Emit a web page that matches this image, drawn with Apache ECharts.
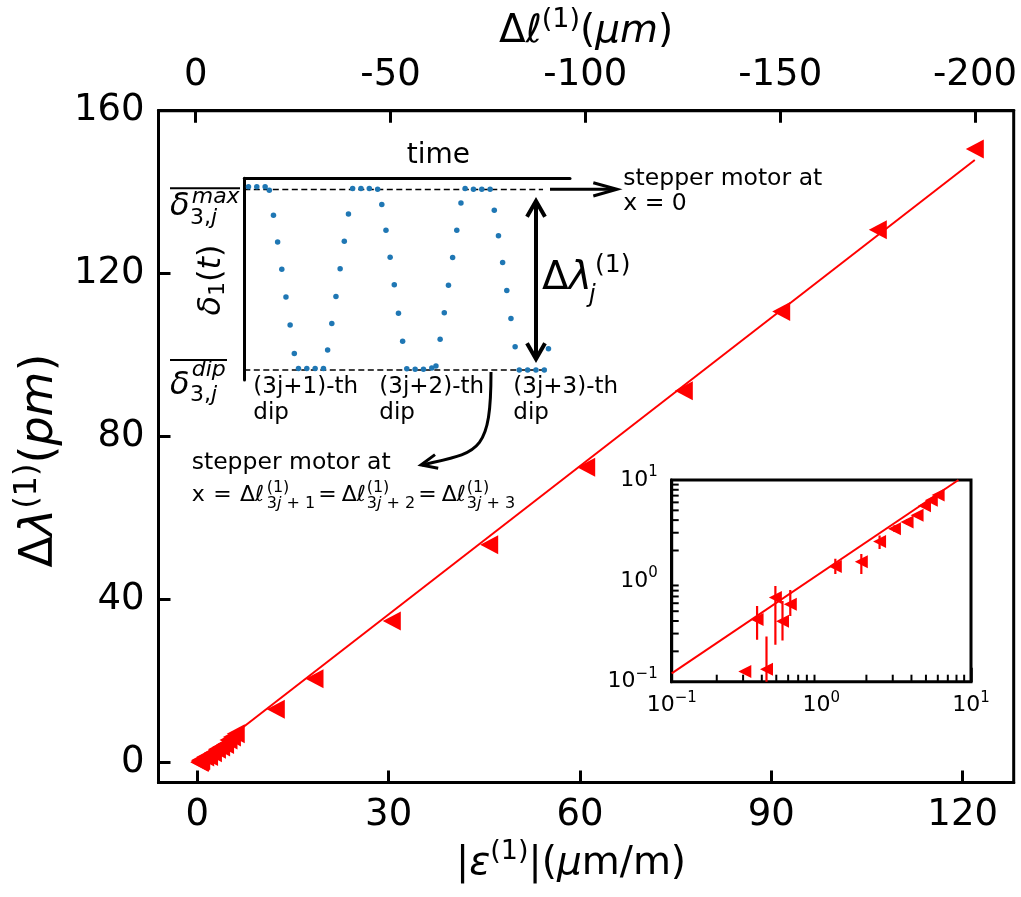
<!DOCTYPE html>
<html><head><meta charset="utf-8">
<script src="https://cdn.jsdelivr.net/npm/echarts@6/dist/echarts.min.js"></script>
<style>html,body{margin:0;padding:0;background:#fff}#c{width:1021px;height:897px}</style>
</head><body><div id="c"></div><script>
// ---------------- data ----------------
const strainSmall = [0.308, 0.43, 0.372, 0.493, 0.55, 0.62, 1.24, 1.85, 2.45, 3.08, 3.74, 4.36, 4.89, 5.43, 6.03];
const shiftSmall  = [0.126, 0.133, 0.414, 0.683, 0.398, 0.585, 1.39, 1.55, 2.45, 3.29, 3.84, 4.47, 5.55, 6.3, 7.08];
const errLowSmall  = [0.12, 0.02, 0.261, 0.233, 0.256, 0.447, 1.17, 1.17, 2.07, 3.05, 3.6, 4.25, 5.3, 6.05, 6.85];
const errHighSmall = [0.132, 0.28, 0.562, 0.89, 0.63, 0.81, 1.66, 1.85, 2.82, 3.55, 4.1, 4.7, 5.8, 6.55, 7.3];
const strainLarge = [12.31, 18.38, 30.5, 45.77, 60.97, 76.28, 91.55, 106.7, 121.9];
const shiftLarge  = [13.11, 20.6, 34.8, 53.5, 72.5, 91.3, 110.7, 130.8, 150.6];
const fitStrain = [0.3, 121.9];
const fitShift  = [0.36, 147.9];
const insetFitStrain = [0.1, 8.24];
const insetFitShift  = [0.121, 10];
const strainTicks = [0, 30, 60, 90, 120];
const shiftTicks  = [0, 40, 80, 120, 160];
const lengthTicks = [0, -50, -100, -150, -200];
const insetMinorTicks = [0.2, 0.3, 0.4, 0.5, 0.6, 0.7, 0.8, 0.9, 2, 3, 4, 5, 6, 7, 8, 9];
// schematic dip signal (time index, normalised delta)
const schemTime  = [1,3,5,6,7,8,9,10,11,12,13,15,17,19,20,21,22,23,24,25,26,28,30,32,
                    33,34,35,36,37,38,39,41,43,45,46,47,48,49,50,51,52,53,55,57,59,
                    60,61,62,63,64,65,66,68,70,72,73];
const schemDelta = [1.015,1.015,1.015,0.996,0.858,0.710,0.559,0.404,0.249,0.092,0.009,0.009,0.009,0.009,0.111,0.258,0.408,0.561,0.714,0.865,1.006,1.006,1.006,1.002,
                    0.917,0.775,0.625,0.472,0.315,0.159,0.007,0.004,0.004,0.011,0.022,0.170,0.317,0.470,0.624,0.775,0.926,1.006,1.002,1.002,1.002,
                    0.886,0.744,0.596,0.441,0.286,0.129,0.000,0.000,0.000,0.000,0.118];
const maxLineTime = [0, 71.7];
const dipLineTime = [0, 72.7];
const maxLevel = 1;
const dipLevel = 0;

// ---------------- chart ----------------
const FF = '"DejaVu Sans"';
const RED = '#ff0000';
const chart = echarts.init(document.getElementById('c'), null, {renderer: 'canvas'});
const triLeft = 'path://M0,5L10,0L10,10Z';
const zip = (a, b) => a.map((v, i) => [v, b[i]]);
const mainData = zip(strainSmall.concat(strainLarge), shiftSmall.concat(shiftLarge));

function insetLabel(v) {
  const e = Math.round(Math.log10(v));
  return '{b|10}{p|' + (e < 0 ? '\u2212' + (-e) : String(e)) + '}';
}
const insetRich = {
  b: {fontSize: 22, fontFamily: FF, color: '#000', lineHeight: 30},
  p: {fontSize: 15, fontFamily: FF, color: '#000', lineHeight: 14, verticalAlign: 'top'}
};
const titleRich = {
  n: {fontSize: 39, fontFamily: FF, color: '#000', lineHeight: 50},
  i: {fontSize: 39, fontFamily: FF, fontStyle: 'italic', color: '#000', lineHeight: 50},
  s: {fontSize: 27, fontFamily: FF, color: '#000', lineHeight: 26, verticalAlign: 'top'}
};
const yTitleRich = {
  n: {fontSize: 46, fontFamily: FF, color: '#000', lineHeight: 56},
  i: {fontSize: 46, fontFamily: FF, fontStyle: 'italic', color: '#000', lineHeight: 56},
  s: {fontSize: 32, fontFamily: FF, color: '#000', lineHeight: 30, verticalAlign: 'top'}
};

function T(x, y, text, size, opts) {
  opts = opts || {};
  return {
    type: 'text', x: x, y: y, rotation: opts.rot || 0, z: 100,
    style: {
      text: text, fill: '#000',
      font: (opts.italic ? 'italic ' : '') + size + 'px ' + FF,
      fontSize: size, fontFamily: 'DejaVu Sans', fontStyle: opts.italic ? 'italic' : 'normal',
      textAlign: opts.align || 'left', align: opts.align || 'left',
      textVerticalAlign: 'middle', verticalAlign: 'middle',
      rich: opts.rich
    }
  };
}
function L(points, w) {
  return {type: 'polyline', z: 100, shape: {points: points}, style: {stroke: '#000', lineWidth: w, fill: null, lineJoin: 'miter'}};
}
const mathRich = (s) => ({
  n: {fontSize: s, fontFamily: FF, color: '#000'},
  i: {fontSize: s, fontFamily: FF, fontStyle: 'italic', color: '#000'}
});

const graphics = [
  T(406.7, 156, 'time', 28),
  // delta max label
  L([[170, 188.3], [240, 188.3]], 2),
  T(170, 207, '\u03b4', 32, {italic: true}),
  T(191.7, 197.4, 'max', 22, {italic: true}),
  T(190, 218.4, '{n|3,}{i|j}', 22, {rich: mathRich(22)}),
  // delta dip label
  L([[170, 360], [227, 360]], 2),
  T(170, 386, '\u03b4', 32, {italic: true}),
  T(191.7, 370.7, 'dip', 22, {italic: true}),
  T(190, 395.7, '{n|3,}{i|j}', 22, {rich: mathRich(22)}),
  // delta_1(t) rotated
  T(211.7, 280, '{i|\u03b4}{s|1}{n|(}{i|t}{n|)}', 32, {rot: Math.PI / 2, align: 'center', rich: {
    n: {fontSize: 32, fontFamily: FF, color: '#000', lineHeight: 36},
    i: {fontSize: 32, fontFamily: FF, fontStyle: 'italic', color: '#000', lineHeight: 36},
    s: {fontSize: 22, fontFamily: FF, color: '#000', lineHeight: 26, verticalAlign: 'bottom'}
  }}),
  // Delta lambda_j^(1)
  T(542, 279, '{n|\u0394}{i|\u03bb}', 39, {rich: mathRich(39)}),
  T(589, 296, 'j', 24, {italic: true}),
  T(595, 265, '(1)', 25),
  // dip labels
  T(253.3, 386.7, '(3j+1)-th', 23), T(253.3, 413.3, 'dip', 23),
  T(379.3, 386.7, '(3j+2)-th', 23), T(379.3, 413.3, 'dip', 23),
  T(513.3, 386.7, '(3j+3)-th', 23), T(513.3, 413.3, 'dip', 23),
  // right arrow + text
  L([[550, 189.3], [615, 189.3]], 3),
  L([[593.3, 182.7], [617, 189.3], [593.3, 196]], 3),
  T(623.3, 179, 'stepper motor at', 23.5),
  T(623.3, 204, 'x = 0', 23.5),
  // double arrow
  L([[536, 202], [536, 358]], 4),
  L([[527, 216.7], [536, 201], [545, 216.7]], 4),
  L([[527, 343.3], [536, 359], [545, 343.3]], 4),
  // curved arrow
  {type: 'bezierCurve', z: 100, shape: {x1: 491, y1: 372, cpx1: 491, cpy1: 455, cpx2: 478, cpy2: 452, x2: 422, y2: 465},
   style: {stroke: '#000', lineWidth: 3, fill: null}},
  L([[435, 454.6], [421, 465], [438.2, 468.2]], 3),
  // lower text
  T(191.7, 462.4, 'stepper motor at', 23.5),
  T(191.7, 495.7, 'x', 22),
  T(213.3, 495.7, '=', 22),
  T(240, 495.7, '{n|\u0394}{i|\u2113}', 22, {rich: mathRich(22)}),
  T(266.7, 487.5, '(1)', 16),
  T(266.7, 503.5, '{n|3}{i|j}{n| + 1}', 16, {rich: mathRich(16)}),
  T(318.3, 495.7, '=', 22),
  T(341.7, 495.7, '{n|\u0394}{i|\u2113}', 22, {rich: mathRich(22)}),
  T(366.7, 487.5, '(1)', 16),
  T(366.7, 503.5, '{n|3}{i|j}{n| + 2}', 16, {rich: mathRich(16)}),
  T(418.3, 495.7, '=', 22),
  T(441.7, 495.7, '{n|\u0394}{i|\u2113}', 22, {rich: mathRich(22)}),
  T(466.7, 487.5, '(1)', 16),
  T(466.7, 503.5, '{n|3}{i|j}{n| + 3}', 16, {rich: mathRich(16)})
];

const axisLineS = {show: true, onZero: false, lineStyle: {color: '#000', width: 3}};
const mainLabel = (vals, m) => ({customValues: vals, fontSize: 37, fontFamily: FF, color: '#000', margin: m});
const mainTick = (vals) => ({show: true, inside: true, length: 12, customValues: vals, lineStyle: {color: '#000', width: 3}});

const option = {
  animation: false,
  backgroundColor: '#fff',
  grid: [
    {left: 158.5, top: 110.7, width: 855.2, height: 671.8, show: true, borderColor: '#000', borderWidth: 3, backgroundColor: 'transparent'},
    {left: 671.7, top: 480, width: 299.3, height: 201.7, show: true, borderColor: '#000', borderWidth: 3, backgroundColor: '#fff', z: 5},
    {left: 244.3, top: 178.3, width: 325.7, height: 201.7, show: false}
  ],
  xAxis: [
    {type: 'value', gridIndex: 0, position: 'bottom', min: -6.08, max: 128,
     axisLine: axisLineS, axisTick: mainTick(strainTicks), axisLabel: mainLabel(strainTicks, 14), splitLine: {show: false},
     name: '{n||}{i|\u03b5}{s|(1)}{n||(}{i|\u03bc}{n|m/m)}', nameLocation: 'middle', nameGap: 56,
     nameTextStyle: {rich: titleRich, padding: [0, 30, 0, 0]}},
    {type: 'value', gridIndex: 0, position: 'top', inverse: true, min: -209.93, max: 9.55,
     axisLine: axisLineS, axisTick: mainTick(lengthTicks), axisLabel: mainLabel(lengthTicks, 17), splitLine: {show: false},
     name: '{n|\u0394}{i|\u2113}{s|(1)}{n|(}{i|\u03bcm}{n|)}', nameLocation: 'middle', nameGap: 54,
     nameTextStyle: {rich: titleRich}},
    {type: 'log', gridIndex: 1, min: 0.1, max: 10, logBase: 10,
     axisLine: {show: true, lineStyle: {color: '#000', width: 3}},
     axisTick: {show: true, inside: true, length: 14, lineStyle: {color: '#000', width: 2.5}},
     axisLabel: {formatter: insetLabel, rich: insetRich, margin: 9}, splitLine: {show: false}, minorTick: {show: false}},
    {type: 'value', gridIndex: 2, position: 'top', min: 0, max: 78.17,
     axisLine: {show: true, onZero: false, lineStyle: {color: '#000', width: 3}},
     axisTick: {show: false}, axisLabel: {show: false}, splitLine: {show: false}}
  ],
  yAxis: [
    {type: 'value', gridIndex: 0, position: 'left', min: -4.86, max: 160,
     axisLine: axisLineS, axisTick: mainTick(shiftTicks), axisLabel: mainLabel(shiftTicks, 14), splitLine: {show: false},
     name: '{n|\u0394}{i|\u03bb}{s|(1)}{n|(}{i|pm}{n|)}', nameLocation: 'middle', nameGap: 81,
     nameTextStyle: {rich: yTitleRich, padding: [0, 28, 0, 0]}},
    {type: 'log', gridIndex: 1, min: 0.1, max: 10, logBase: 10,
     axisLine: {show: true, lineStyle: {color: '#000', width: 3}},
     axisTick: {show: true, inside: true, length: 14, lineStyle: {color: '#000', width: 2.5}},
     axisLabel: {formatter: insetLabel, rich: insetRich, margin: 14}, splitLine: {show: false}, minorTick: {show: false}},
    {type: 'value', gridIndex: 2, position: 'left', min: -0.0553, max: 1.0625,
     axisLine: {show: true, onZero: false, lineStyle: {color: '#000', width: 3}},
     axisTick: {show: false}, axisLabel: {show: false}, splitLine: {show: false}}
  ],
  series: [
    {type: 'line', xAxisIndex: 0, yAxisIndex: 0, data: zip(fitStrain, fitShift), showSymbol: false,
     lineStyle: {color: RED, width: 2}, itemStyle: {color: RED}, z: 2},
    {type: 'scatter', xAxisIndex: 0, yAxisIndex: 0, data: mainData, symbol: triLeft, symbolSize: [18, 19],
     itemStyle: {color: RED, opacity: 1}, z: 3},
    {type: 'line', xAxisIndex: 2, yAxisIndex: 1, data: zip(insetFitStrain, insetFitShift), showSymbol: false,
     lineStyle: {color: RED, width: 2}, z: 6, clip: true},
    {type: 'custom', xAxisIndex: 2, yAxisIndex: 1, clip: true, z: 6,
     data: strainSmall.map((x, i) => [x, errLowSmall[i], errHighSmall[i]]),
     encode: {x: 0, y: [1, 2]},
     renderItem: function (params, api) {
       const p1 = api.coord([api.value(0), api.value(1)]);
       const p2 = api.coord([api.value(0), api.value(2)]);
       return {type: 'line', shape: {x1: p1[0], y1: p1[1], x2: p2[0], y2: p2[1]}, style: {stroke: RED, lineWidth: 2.2}};
     }},
    {type: 'scatter', xAxisIndex: 2, yAxisIndex: 1, data: zip(strainSmall, shiftSmall), symbol: triLeft, symbolSize: [13, 13],
     itemStyle: {color: RED, opacity: 1}, z: 7},
    {type: 'custom', xAxisIndex: 2, yAxisIndex: 1, clip: false, z: 8,
     data: insetMinorTicks.map(v => [v, 0.1]), encode: {x: 0, y: 1},
     renderItem: function (params, api) {
       const p = api.coord([api.value(0), 0.1]);
       return {type: 'line', shape: {x1: p[0], y1: p[1], x2: p[0], y2: p[1] - 7}, style: {stroke: '#000', lineWidth: 2}};
     }},
    {type: 'custom', xAxisIndex: 2, yAxisIndex: 1, clip: false, z: 8,
     data: insetMinorTicks.map(v => [0.1, v]), encode: {x: 0, y: 1},
     renderItem: function (params, api) {
       const p = api.coord([0.1, api.value(1)]);
       return {type: 'line', shape: {x1: p[0], y1: p[1], x2: p[0] + 7, y2: p[1]}, style: {stroke: '#000', lineWidth: 2}};
     }},
    {type: 'line', xAxisIndex: 3, yAxisIndex: 2, data: zip(maxLineTime, [maxLevel, maxLevel]), showSymbol: false,
     lineStyle: {color: '#000', width: 1.5, type: [6, 3.5]}, z: 4},
    {type: 'line', xAxisIndex: 3, yAxisIndex: 2, data: zip(dipLineTime, [dipLevel, dipLevel]), showSymbol: false,
     lineStyle: {color: '#000', width: 1.5, type: [6, 3.5]}, z: 4},
    {type: 'scatter', xAxisIndex: 3, yAxisIndex: 2, data: zip(schemTime, schemDelta), symbol: 'circle', symbolSize: 5.5,
     itemStyle: {color: '#1f77b4', opacity: 1}, z: 5, clip: false}
  ],
  graphic: {elements: graphics}
};
chart.setOption(option);
</script></body></html>
